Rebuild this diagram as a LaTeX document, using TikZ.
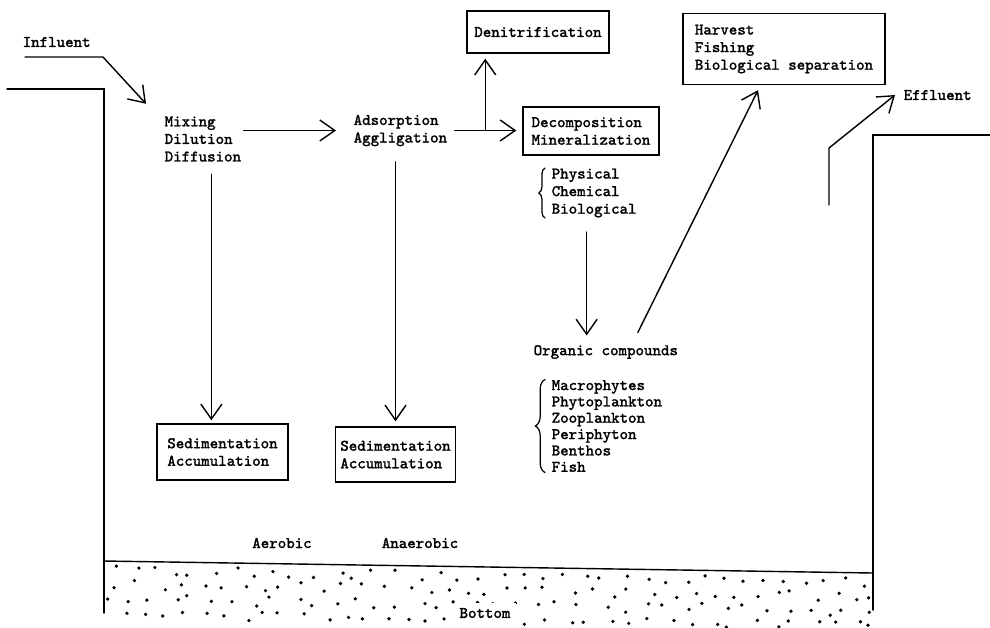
\documentclass[tikz,border=0pt]{standalone}
\usepackage{fontspec}
\setmonofont{Latin Modern Mono}[FakeBold=1.4]
\usetikzlibrary{arrows.meta,decorations.pathreplacing}

\begin{document}
\begin{tikzpicture}[x=0.02cm,y=-0.02cm,>={Straight Barb[length=3mm,width=4.2mm]},
  font=\ttfamily\fontsize{9.2}{10}\selectfont,line width=0.8pt,line cap=round,
  lbl/.style={inner sep=0pt,align=left,anchor=west},
  boxed/.style={draw,align=left,inner sep=0pt},
  tight/.style={font=\ttfamily\fontsize{9.2}{9.3}\selectfont},
  brc/.style={decorate,decoration={brace,amplitude=#1},line width=0.7pt}]
\useasboundingbox (0,0) rectangle (990,627);
% pond walls and bottom
\draw (7,89) -- (104,89) -- (104,613);
\draw (990,135) -- (873,135) -- (873,610);
\draw (104,561) -- (873,573);
\pgfmathsetseed{4711}
\foreach \r in {0,...,3}{
  \foreach \c in {0,...,37}{
    \pgfmathsetmacro\dx{112+\c*20.4+14*(rnd-0.5)+(mod(\r,2))*8}
    \pgfmathsetmacro\dy{561+12*(\dx-104)/769+9+\r*14.5+10*(rnd-0.5)}
    \fill (\dx,\dy) circle (1.05pt);
  }
}
\node[fill=white,inner sep=3pt] (bottom) at (485,613) {Bottom};
% texts
\node[lbl] (infl) at (22,42) {Influent};
\node[lbl] (mix) at (164,139) {Mixing\\Dilution\\Diffusion};
\node[lbl] (ads) at (353,130.5) {Adsorption\\Aggligation};
\node[boxed,minimum width=2.84cm,minimum height=0.84cm] (denit) at (538,32) {Denitrification};
\node[boxed,minimum width=2.72cm,minimum height=0.96cm] (decomp) at (591,131) {Decomposition\\Mineralization};
\node[boxed,minimum width=4.04cm,minimum height=1.42cm] (harv) at (784,49) {Harvest\\Fishing\\Biological separation};
\node[lbl] (phys) at (551,193) {Physical\\Chemical\\Biological};
\node[lbl] (orgc) at (533,352) {Organic compounds};
\node[lbl,tight] (biota) at (551,426) {Macrophytes\\Phytoplankton\\Zooplankton\\Periphyton\\Benthos\\Fish};
\node[boxed,minimum width=2.62cm,minimum height=1.12cm] (sedA) at (222.5,452) {Sedimentation\\Accumulation};
\node[boxed,minimum width=2.4cm,minimum height=1.1cm] (sedB) at (395.5,454.5) {Sedimentation\\Accumulation};
\node (aer) at (282,543) {Aerobic};
\node (anaer) at (420,543) {Anaerobic};
\node[lbl] (effl) at (903,95) {Effluent};
% braces
\draw[brc=3.5pt] ([xshift=-0.12cm]phys.south west) -- ([xshift=-0.12cm]phys.north west);
\draw[brc=5.5pt] ([xshift=-0.12cm]biota.south west) -- ([xshift=-0.12cm]biota.north west);
% flows
\coordinate (inflA) at (25,57);
\coordinate (inflB) at (103,57);
\draw[->] (inflA) -- (inflB) -- ([shift={(-0.36cm,0.24cm)}]mix.north west);
\draw[->,shorten <=0.04cm,shorten >=0.34cm] (mix.east |- ads.west) -- (ads.west);
\coordinate (mixd) at ([xshift=0.17cm,yshift=-0.24cm]mix.south);
\draw[->,shorten >=0.06cm] (mixd) -- (mixd |- sedA.north);
\coordinate (adsd) at ([yshift=-0.3cm]sedB.north |- ads.south);
\draw[->,shorten >=0.1cm] (adsd) -- (sedB.north);
\draw[->,shorten <=0.14cm,shorten >=0.12cm] (ads.east) -- (ads.east -| decomp.west);
\coordinate (split) at ([xshift=0.75cm]ads.east);
\draw[->,shorten >=0.1cm] (split) -- (split |- denit.south);
\coordinate (physd) at ([xshift=-0.15cm,yshift=-0.28cm]phys.south);
\draw[->,shorten >=0.18cm] (physd) -- (physd |- orgc.north);
\draw[->] ([xshift=0.64cm,yshift=0.24cm]orgc.north) -- ([xshift=-0.52cm,yshift=-0.1cm]harv.south);
\coordinate (effA) at (829,205);
\coordinate (effB) at (829,148);
\draw[->] (effA) -- (effB) -- ([xshift=-0.16cm]effl.west);
\end{tikzpicture}
\end{document}
